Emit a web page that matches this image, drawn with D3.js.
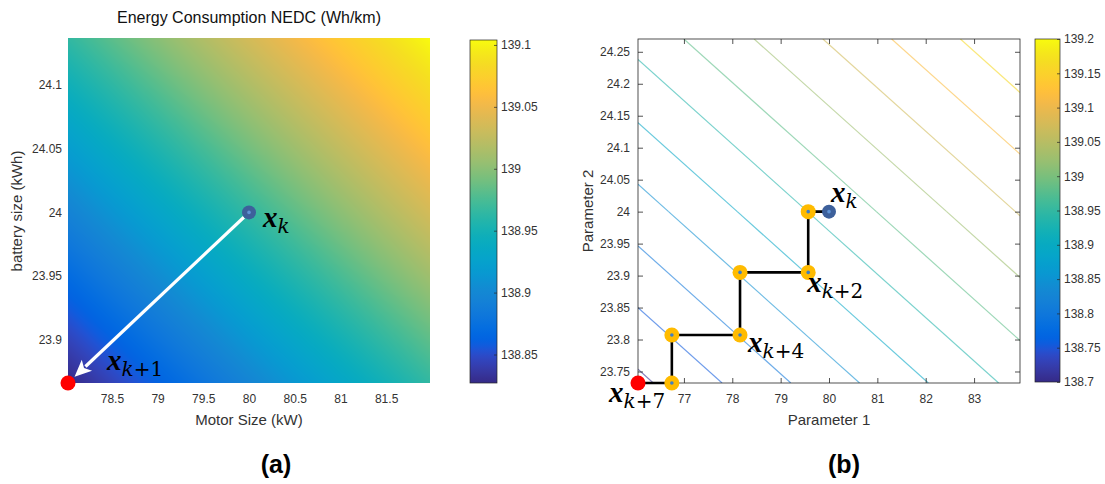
<!DOCTYPE html>
<html>
<head>
<meta charset="utf-8">
<script src="https://cdn.jsdelivr.net/npm/d3@7"></script>
<style>
  html, body { margin: 0; padding: 0; background: #fff; }
  svg { display: block; }
  text { font-family: "Liberation Sans", Arial, Helvetica, sans-serif; }
</style>
</head>
<body>
<svg id="fig" width="1105" height="484"></svg>
<script>
// ---------------- Panel (a): energy consumption surface ----------------
const motorSizeA   = [78.02, 80, 81.98];          // kW, grid columns
const batterySizeA = [23.866, 24, 24.137];        // kWh, grid rows
const energyA = [                                 // Wh/km, rows follow batterySizeA
  [138.827, 138.897, 138.965],
  [138.895, 138.965, 139.035],
  [138.965, 139.035, 139.104]
];
const colorRangeA = [138.827, 139.104];
const xTicksA  = [78.5, 79, 79.5, 80, 80.5, 81, 81.5];
const yTicksA  = [23.9, 23.95, 24, 24.05, 24.1];
const cbTicksA = [138.85, 138.9, 138.95, 139, 139.05, 139.1];
const stepFromA = [80, 24];        // x_k
const stepToA   = [78.02, 23.866]; // x_{k+1}

// ---------------- Panel (b): contour map with coordinate search path ----------------
const param1B = [76.05, 80, 83.95];
const param2B = [23.732, 24, 24.27];
const energyB = [                                 // rows follow param2B
  [138.700, 138.825, 138.950],
  [138.825, 138.950, 139.075],
  [138.951, 139.076, 139.201]
];
const colorRangeB = [138.7, 139.2];
const contourLevelsB = [138.71, 138.755, 138.8, 138.845, 138.89, 138.936,
                        138.981, 139.027, 139.072, 139.117, 139.162];
const xTicksB  = [77, 78, 79, 80, 81, 82, 83];
const yTicksB  = [23.75, 23.8, 23.85, 23.9, 23.95, 24, 24.05, 24.1, 24.15, 24.2, 24.25];
const cbTicksB = [138.7, 138.75, 138.8, 138.85, 138.9, 138.95, 139, 139.05, 139.1, 139.15, 139.2];
// search path from x_{k+7} (first) back to x_k (last)
const pathP1 = [76.05, 76.75, 76.75, 78.16, 78.16, 79.57, 79.57, 80];
const pathP2 = [23.732, 23.732, 23.807, 23.807, 23.905, 23.905, 24, 24];
const pathLabelsB = [
  { index: 7, sub: "k" },
  { index: 5, sub: "k+2" },
  { index: 3, sub: "k+4" },
  { index: 0, sub: "k+7" }
];

// MATLAB parula colormap (64 entries)
const parula = [
[0.2081,0.1663,0.5292],[0.2116,0.1898,0.5777],[0.2123,0.2138,0.6270],[0.2081,0.2386,0.6771],
[0.1959,0.2645,0.7279],[0.1707,0.2919,0.7792],[0.1253,0.3242,0.8303],[0.0591,0.3598,0.8683],
[0.0117,0.3875,0.8820],[0.0060,0.4086,0.8828],[0.0165,0.4266,0.8786],[0.0329,0.4430,0.8720],
[0.0498,0.4586,0.8641],[0.0629,0.4737,0.8554],[0.0723,0.4887,0.8467],[0.0779,0.5040,0.8384],
[0.0793,0.5200,0.8312],[0.0749,0.5375,0.8263],[0.0641,0.5570,0.8240],[0.0488,0.5772,0.8228],
[0.0343,0.5966,0.8199],[0.0265,0.6137,0.8135],[0.0239,0.6287,0.8038],[0.0231,0.6418,0.7913],
[0.0228,0.6535,0.7768],[0.0267,0.6642,0.7607],[0.0384,0.6743,0.7436],[0.0590,0.6838,0.7254],
[0.0843,0.6928,0.7062],[0.1133,0.7015,0.6859],[0.1453,0.7098,0.6646],[0.1801,0.7177,0.6424],
[0.2178,0.7250,0.6193],[0.2586,0.7317,0.5954],[0.3022,0.7376,0.5712],[0.3482,0.7424,0.5473],
[0.3953,0.7459,0.5244],[0.4420,0.7481,0.5033],[0.4871,0.7491,0.4840],[0.5300,0.7491,0.4661],
[0.5709,0.7485,0.4494],[0.6099,0.7473,0.4337],[0.6473,0.7456,0.4188],[0.6834,0.7435,0.4044],
[0.7184,0.7411,0.3905],[0.7525,0.7384,0.3768],[0.7858,0.7356,0.3633],[0.8185,0.7327,0.3498],
[0.8507,0.7299,0.3360],[0.8824,0.7274,0.3217],[0.9139,0.7258,0.3063],[0.9450,0.7261,0.2886],
[0.9739,0.7314,0.2666],[0.9938,0.7455,0.2403],[0.9990,0.7653,0.2164],[0.9955,0.7861,0.1967],
[0.9880,0.8066,0.1794],[0.9789,0.8271,0.1633],[0.9697,0.8481,0.1475],[0.9626,0.8705,0.1309],
[0.9589,0.8949,0.1132],[0.9598,0.9218,0.0948],[0.9661,0.9514,0.0755],[0.9763,0.9831,0.0538]
];
const parulaColors = parula.map(c => d3.rgb(c[0] * 255, c[1] * 255, c[2] * 255));

function parulaScale([lo, hi]) {
  return d3.scaleLinear()
    .domain(parulaColors.map((_, i) => lo + (hi - lo) * i / (parulaColors.length - 1)))
    .range(parulaColors)
    .clamp(true);
}

// bilinear lookup inside a rectilinear grid
function gridValue(xs, ys, grid, x, y) {
  const i = Math.max(0, Math.min(xs.length - 2, d3.bisectRight(xs, x) - 1));
  const j = Math.max(0, Math.min(ys.length - 2, d3.bisectRight(ys, y) - 1));
  const tx = (x - xs[i]) / (xs[i + 1] - xs[i]);
  const ty = (y - ys[j]) / (ys[j + 1] - ys[j]);
  const a = grid[j][i] * (1 - tx) + grid[j][i + 1] * tx;
  const b = grid[j + 1][i] * (1 - tx) + grid[j + 1][i + 1] * tx;
  return a * (1 - ty) + b * ty;
}

// marching squares over the grid cells: line segments for one level
function isoSegments(xs, ys, grid, level) {
  const segs = [];
  for (let j = 0; j < ys.length - 1; j++) {
    for (let i = 0; i < xs.length - 1; i++) {
      const c = [
        [xs[i], ys[j], grid[j][i]],
        [xs[i + 1], ys[j], grid[j][i + 1]],
        [xs[i + 1], ys[j + 1], grid[j + 1][i + 1]],
        [xs[i], ys[j + 1], grid[j + 1][i]]
      ];
      const pts = [];
      for (let k = 0; k < 4; k++) {
        const a = c[k], b = c[(k + 1) % 4];
        if ((a[2] - level) * (b[2] - level) < 0) {
          const t = (level - a[2]) / (b[2] - a[2]);
          pts.push([a[0] + t * (b[0] - a[0]), a[1] + t * (b[1] - a[1])]);
        }
      }
      for (let k = 0; k + 1 < pts.length; k += 2) segs.push([pts[k], pts[k + 1]]);
    }
  }
  return segs;
}

const svg = d3.select("#fig");
const fmt = d3.format("~g");
const TICK_TEXT = "#333";
const FRAME = "#262626";

// math-style point label: bold italic x with a subscript
function mathLabel(g, x, y, sub) {
  const t = g.append("text").attr("x", x).attr("y", y).attr("fill", "#000");
  t.append("tspan")
    .style("font-family", '"Liberation Serif", "DejaVu Serif", serif')
    .attr("font-style", "italic").attr("font-weight", "bold")
    .attr("font-size", 29).text("x");
  const m = sub.match(/^k(.*)$/);
  t.append("tspan")
    .style("font-family", '"DejaVu Serif", serif')
    .attr("font-style", "italic").attr("font-size", 20)
    .attr("dy", 6).text("k");
  if (m && m[1]) {
    t.append("tspan")
      .style("font-family", '"DejaVu Serif", serif')
      .attr("font-size", 20).text(m[1]);
  }
}

function colorbar(id, scaleY, x, w, ticks) {
  const grad = svg.append("defs").append("linearGradient")
    .attr("id", id).attr("x1", 0).attr("y1", 1).attr("x2", 0).attr("y2", 0);
  parulaColors.forEach((c, i) => {
    grad.append("stop").attr("offset", i / (parulaColors.length - 1)).attr("stop-color", c.toString());
  });
  const [y1, y0] = scaleY.range();
  svg.append("rect").attr("x", x).attr("y", y0).attr("width", w).attr("height", y1 - y0)
    .attr("fill", `url(#${id})`).attr("stroke", FRAME).attr("stroke-width", 0.7);
  const ax = svg.append("g").attr("transform", `translate(${x + w},0)`)
    .call(d3.axisRight(scaleY).tickValues(ticks).tickFormat(fmt)
      .tickSizeInner(-3).tickSizeOuter(0).tickPadding(4));
  ax.select(".domain").remove();
  ax.selectAll("line").attr("stroke", FRAME).attr("stroke-width", 0.7);
  ax.selectAll("text").attr("font-size", 12).attr("fill", TICK_TEXT)
    .style("font-family", '"Liberation Sans", Arial, sans-serif');
}

// ================= Panel (a) =================
const xA = d3.scaleLinear().domain([motorSizeA[0], motorSizeA[motorSizeA.length - 1]]).range([68, 430]);
const yA = d3.scaleLinear().domain([batterySizeA[0], batterySizeA[batterySizeA.length - 1]]).range([383, 38]);
const colorA = parulaScale(colorRangeA);

{
  const px0 = xA.range()[0], px1 = xA.range()[1];
  const py0 = yA.range()[1], py1 = yA.range()[0];
  const w = Math.round(px1 - px0), h = Math.round(py1 - py0);
  const canvas = document.createElement("canvas");
  canvas.width = w; canvas.height = h;
  const ctx = canvas.getContext("2d");
  const img = ctx.createImageData(w, h);
  for (let j = 0; j < h; j++) {
    const yv = yA.invert(py0 + j + 0.5);
    for (let i = 0; i < w; i++) {
      const xv = xA.invert(px0 + i + 0.5);
      const c = d3.rgb(colorA(gridValue(motorSizeA, batterySizeA, energyA, xv, yv)));
      const o = (j * w + i) * 4;
      img.data[o] = c.r; img.data[o + 1] = c.g; img.data[o + 2] = c.b; img.data[o + 3] = 255;
    }
  }
  ctx.putImageData(img, 0, 0);
  svg.append("image").attr("x", px0).attr("y", py0).attr("width", w).attr("height", h)
    .attr("preserveAspectRatio", "none").attr("href", canvas.toDataURL());
}

// axes (no frame, labels only)
{
  const gx = svg.append("g").attr("transform", `translate(0,${yA.range()[0]})`)
    .call(d3.axisBottom(xA).tickValues(xTicksA).tickFormat(fmt).tickSize(0).tickPadding(11));
  const gy = svg.append("g").attr("transform", `translate(${xA.range()[0]},0)`)
    .call(d3.axisLeft(yA).tickValues(yTicksA).tickFormat(fmt).tickSize(0).tickPadding(6));
  [gx, gy].forEach(g => {
    g.select(".domain").remove();
    g.selectAll("text").attr("font-size", 12).attr("fill", TICK_TEXT)
      .style("font-family", '"Liberation Sans", Arial, sans-serif');
  });
}

svg.append("text").attr("x", 249).attr("y", 23).attr("text-anchor", "middle")
  .attr("font-size", 16).attr("fill", "#111").text("Energy Consumption NEDC (Wh/km)");
svg.append("text").attr("x", 249).attr("y", 425).attr("text-anchor", "middle")
  .attr("font-size", 15).attr("fill", TICK_TEXT).text("Motor Size (kW)");
svg.append("text").attr("transform", "translate(22,211) rotate(-90)").attr("text-anchor", "middle")
  .attr("font-size", 15).attr("fill", TICK_TEXT).text("battery size (kWh)");

// step arrow x_k -> x_{k+1}
{
  const p0 = [xA(stepFromA[0]), yA(stepFromA[1])];
  const p1 = [xA(stepToA[0]), yA(stepToA[1])];
  const dx = p1[0] - p0[0], dy = p1[1] - p0[1], L = Math.hypot(dx, dy);
  const u = [dx / L, dy / L], nrm = [-u[1], u[0]];
  const start = [p0[0] + u[0] * 7, p0[1] + u[1] * 7];
  const tip = [p1[0] - u[0] * 9, p1[1] - u[1] * 9];
  const headLen = 17, headHalf = 7.5;
  const base = [tip[0] - u[0] * headLen, tip[1] - u[1] * headLen];
  svg.append("line").attr("x1", start[0]).attr("y1", start[1])
    .attr("x2", base[0] + u[0] * 2).attr("y2", base[1] + u[1] * 2)
    .attr("stroke", "#fff").attr("stroke-width", 3.2);
  svg.append("path").attr("fill", "#fff")
    .attr("d", `M${tip[0]},${tip[1]}L${base[0] + nrm[0] * headHalf},${base[1] + nrm[1] * headHalf}` +
               `L${base[0] + u[0] * 4},${base[1] + u[1] * 4}` +
               `L${base[0] - nrm[0] * headHalf},${base[1] - nrm[1] * headHalf}Z`);
  svg.append("circle").attr("cx", p1[0]).attr("cy", p1[1]).attr("r", 7.5).attr("fill", "#ff0000");
  svg.append("circle").attr("cx", p0[0]).attr("cy", p0[1]).attr("r", 7).attr("fill", "#3d609b");
  svg.append("circle").attr("cx", p0[0]).attr("cy", p0[1]).attr("r", 1.8).attr("fill", "#5f93d6");
  mathLabel(svg, p0[0] + 14, p0[1] + 15, "k");
  mathLabel(svg, p1[0] + 39, p1[1] - 13, "k+1");
}

colorbar("cbA", d3.scaleLinear().domain(colorRangeA).range([383, 40]), 470, 27, cbTicksA);

svg.append("text").attr("x", 276).attr("y", 473).attr("text-anchor", "middle")
  .attr("font-size", 25).attr("font-weight", "bold").attr("fill", "#000").text("(a)");

// ================= Panel (b) =================
const xB = d3.scaleLinear().domain([param1B[0], param1B[param1B.length - 1]]).range([638, 1020]);
const yB = d3.scaleLinear().domain([param2B[0], param2B[param2B.length - 1]]).range([383, 39]);
const colorB = parulaScale(colorRangeB);

svg.append("defs").append("clipPath").attr("id", "clipB")
  .append("rect").attr("x", 638).attr("y", 39).attr("width", 382).attr("height", 344);

// contour lines
{
  const g = svg.append("g").attr("clip-path", "url(#clipB)");
  contourLevelsB.forEach(level => {
    isoSegments(param1B, param2B, energyB, level).forEach(([a, b]) => {
      g.append("line")
        .attr("x1", xB(a[0])).attr("y1", yB(a[1]))
        .attr("x2", xB(b[0])).attr("y2", yB(b[1]))
        .attr("stroke", colorB(level)).attr("stroke-width", 1.2).attr("stroke-opacity", 0.6);
    });
  });
}

// frame and ticks on all four sides
{
  svg.append("rect").attr("x", 638).attr("y", 39).attr("width", 382).attr("height", 344)
    .attr("fill", "none").attr("stroke", FRAME).attr("stroke-width", 0.8);
  const gb = svg.append("g").attr("transform", "translate(0,383)")
    .call(d3.axisBottom(xB).tickValues(xTicksB).tickFormat(fmt).tickSizeInner(-5).tickSizeOuter(0).tickPadding(11));
  const gt = svg.append("g").attr("transform", "translate(0,39)")
    .call(d3.axisTop(xB).tickValues(xTicksB).tickFormat("").tickSizeInner(-5).tickSizeOuter(0));
  const gl = svg.append("g").attr("transform", "translate(638,0)")
    .call(d3.axisLeft(yB).tickValues(yTicksB).tickFormat(fmt).tickSizeInner(-5).tickSizeOuter(0).tickPadding(8));
  const gr = svg.append("g").attr("transform", "translate(1020,0)")
    .call(d3.axisRight(yB).tickValues(yTicksB).tickFormat("").tickSizeInner(-5).tickSizeOuter(0));
  [gb, gt, gl, gr].forEach(g => {
    g.select(".domain").remove();
    g.selectAll("line").attr("stroke", FRAME).attr("stroke-width", 0.8);
    g.selectAll("text").attr("font-size", 12).attr("fill", TICK_TEXT)
      .style("font-family", '"Liberation Sans", Arial, sans-serif');
  });
}

svg.append("text").attr("x", 829).attr("y", 425).attr("text-anchor", "middle")
  .attr("font-size", 15).attr("fill", TICK_TEXT).text("Parameter 1");
svg.append("text").attr("transform", "translate(593,211) rotate(-90)").attr("text-anchor", "middle")
  .attr("font-size", 15).attr("fill", TICK_TEXT).text("Parameter 2");

// search path
{
  const pts = pathP1.map((p, i) => [xB(p), yB(pathP2[i])]);
  svg.append("path").attr("d", d3.line()(pts)).attr("fill", "none")
    .attr("stroke", "#000").attr("stroke-width", 2.6);
  pts.forEach((p, i) => {
    if (i === 0) {
      svg.append("circle").attr("cx", p[0]).attr("cy", p[1]).attr("r", 7.5).attr("fill", "#ff0000");
    } else if (i === pts.length - 1) {
      svg.append("circle").attr("cx", p[0]).attr("cy", p[1]).attr("r", 7).attr("fill", "#3d609b");
      svg.append("circle").attr("cx", p[0]).attr("cy", p[1]).attr("r", 1.8).attr("fill", "#5f93d6");
    } else {
      svg.append("circle").attr("cx", p[0]).attr("cy", p[1]).attr("r", 7.5).attr("fill", "#ffbb00");
      svg.append("circle").attr("cx", p[0]).attr("cy", p[1]).attr("r", 1.8).attr("fill", "#3f7fc4");
    }
  });
  const labelOffset = { "k": [2, -10], "k+2": [-1, 20], "k+4": [8, 17], "k+7": [-29, 19] };
  pathLabelsB.forEach(l => {
    const p = pts[l.index], o = labelOffset[l.sub];
    mathLabel(svg, p[0] + o[0], p[1] + o[1], l.sub);
  });
}

colorbar("cbB", d3.scaleLinear().domain(colorRangeB).range([382, 39]), 1035, 25, cbTicksB);

svg.append("text").attr("x", 844).attr("y", 473).attr("text-anchor", "middle")
  .attr("font-size", 25).attr("font-weight", "bold").attr("fill", "#000").text("(b)");
</script>
</body>
</html>
